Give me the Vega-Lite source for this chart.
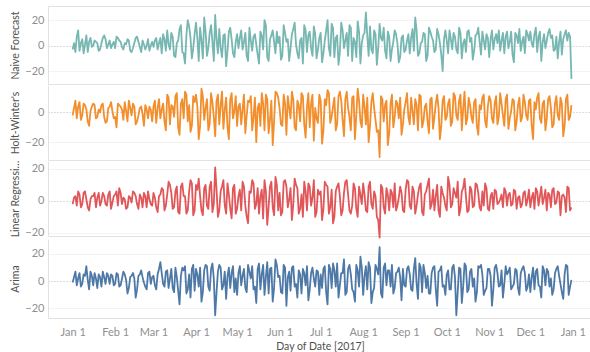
{
"$schema": "https://vega.github.io/schema/vega-lite/v6.json",
"padding": {"left": 10, "top": 5, "right": 0, "bottom": 0},
"spacing": 0,
"data": {"values": [
{"d":"2017-01-01","n":-3,"h":-2,"l":-2,"a":-1},
{"d":"2017-01-03","n":-5,"h":8,"l":3,"a":7},
{"d":"2017-01-05","n":12,"h":4,"l":6,"a":2},
{"d":"2017-01-07","n":2,"h":-5,"l":-4,"a":-4},
{"d":"2017-01-09","n":-6,"h":6,"l":5,"a":5},
{"d":"2017-01-11","n":8,"h":2,"l":1,"a":11},
{"d":"2017-01-13","n":3,"h":-9,"l":-6,"a":-6},
{"d":"2017-01-15","n":-1,"h":4,"l":3,"a":4},
{"d":"2017-01-17","n":4,"h":5,"l":5,"a":6},
{"d":"2017-01-19","n":2,"h":-3,"l":2,"a":-5},
{"d":"2017-01-21","n":-3,"h":0,"l":-3,"a":3},
{"d":"2017-01-23","n":6,"h":6,"l":5,"a":7},
{"d":"2017-01-25","n":5,"h":-7,"l":-2,"a":-2},
{"d":"2017-01-27","n":1,"h":3,"l":4,"a":4},
{"d":"2017-01-29","n":-2,"h":7,"l":-5,"a":5},
{"d":"2017-01-31","n":3,"h":-4,"l":3,"a":-3},
{"d":"2017-02-02","n":7,"h":-10,"l":6,"a":6},
{"d":"2017-02-04","n":4,"h":5,"l":8,"a":-4},
{"d":"2017-02-06","n":-1,"h":2,"l":-2,"a":2},
{"d":"2017-02-08","n":2,"h":7,"l":1,"a":5},
{"d":"2017-02-10","n":5,"h":-6,"l":-4,"a":-9},
{"d":"2017-02-12","n":-4,"h":3,"l":2,"a":3},
{"d":"2017-02-14","n":-2,"h":6,"l":6,"a":6},
{"d":"2017-02-16","n":6,"h":-8,"l":3,"a":-12},
{"d":"2017-02-18","n":3,"h":-2,"l":-5,"a":4},
{"d":"2017-02-20","n":-5,"h":4,"l":2,"a":8},
{"d":"2017-02-22","n":1,"h":-9,"l":5,"a":-1},
{"d":"2017-02-24","n":0,"h":2,"l":-4,"a":-6},
{"d":"2017-02-26","n":-4,"h":4,"l":1,"a":7},
{"d":"2017-02-28","n":3,"h":-6,"l":-3,"a":3},
{"d":"2017-03-02","n":4,"h":8,"l":2,"a":-3},
{"d":"2017-03-04","n":-3,"h":3,"l":-7,"a":5},
{"d":"2017-03-06","n":6,"h":-4,"l":4,"a":14},
{"d":"2017-03-08","n":9,"h":6,"l":7,"a":-2},
{"d":"2017-03-10","n":-4,"h":-12,"l":-3,"a":7},
{"d":"2017-03-12","n":1,"h":10,"l":12,"a":-5},
{"d":"2017-03-14","n":10,"h":5,"l":5,"a":9},
{"d":"2017-03-16","n":-8,"h":-3,"l":-4,"a":-8},
{"d":"2017-03-18","n":2,"h":13,"l":9,"a":3},
{"d":"2017-03-20","n":13,"h":-15,"l":-8,"a":-17},
{"d":"2017-03-22","n":-5,"h":9,"l":11,"a":10},
{"d":"2017-03-24","n":-14,"h":14,"l":3,"a":11},
{"d":"2017-03-26","n":20,"h":-6,"l":-6,"a":-6},
{"d":"2017-03-28","n":6,"h":-13,"l":13,"a":-12},
{"d":"2017-03-30","n":-2,"h":11,"l":-9,"a":12},
{"d":"2017-04-01","n":18,"h":12,"l":10,"a":9},
{"d":"2017-04-03","n":-12,"h":-18,"l":14,"a":-4},
{"d":"2017-04-05","n":4,"h":16,"l":-6,"a":-15},
{"d":"2017-04-07","n":22,"h":-5,"l":8,"a":8},
{"d":"2017-04-09","n":-8,"h":9,"l":-3,"a":11},
{"d":"2017-04-11","n":10,"h":-8,"l":9,"a":-7},
{"d":"2017-04-13","n":3,"h":7,"l":-7,"a":13},
{"d":"2017-04-15","n":24,"h":-16,"l":21,"a":-25},
{"d":"2017-04-17","n":-6,"h":12,"l":-10,"a":7},
{"d":"2017-04-19","n":-2,"h":5,"l":6,"a":10},
{"d":"2017-04-21","n":8,"h":-11,"l":13,"a":-3},
{"d":"2017-04-23","n":-16,"h":10,"l":-8,"a":-13},
{"d":"2017-04-25","n":11,"h":-18,"l":4,"a":10},
{"d":"2017-04-27","n":5,"h":13,"l":-11,"a":6},
{"d":"2017-04-29","n":-9,"h":1,"l":10,"a":-8},
{"d":"2017-05-01","n":9,"h":-9,"l":-5,"a":-10},
{"d":"2017-05-03","n":6,"h":6,"l":7,"a":11},
{"d":"2017-05-05","n":-3,"h":2,"l":12,"a":4},
{"d":"2017-05-07","n":10,"h":-14,"l":-3,"a":-5},
{"d":"2017-05-09","n":-12,"h":8,"l":-14,"a":12},
{"d":"2017-05-11","n":4,"h":11,"l":5,"a":2},
{"d":"2017-05-13","n":7,"h":-3,"l":11,"a":-6},
{"d":"2017-05-15","n":1,"h":-20,"l":-2,"a":-16},
{"d":"2017-05-17","n":-14,"h":6,"l":-8,"a":13},
{"d":"2017-05-19","n":8,"h":13,"l":7,"a":5},
{"d":"2017-05-21","n":20,"h":-12,"l":13,"a":-10},
{"d":"2017-05-23","n":-9,"h":9,"l":-15,"a":14},
{"d":"2017-05-25","n":5,"h":-5,"l":9,"a":9},
{"d":"2017-05-27","n":12,"h":-22,"l":-4,"a":-15},
{"d":"2017-05-29","n":-6,"h":14,"l":15,"a":16},
{"d":"2017-05-31","n":2,"h":10,"l":-6,"a":3},
{"d":"2017-06-02","n":-11,"h":-8,"l":-9,"a":-8},
{"d":"2017-06-04","n":16,"h":12,"l":12,"a":12},
{"d":"2017-06-06","n":3,"h":-15,"l":9,"a":-18},
{"d":"2017-06-08","n":-12,"h":3,"l":1,"a":7},
{"d":"2017-06-10","n":9,"h":14,"l":-12,"a":10},
{"d":"2017-06-12","n":18,"h":-10,"l":14,"a":-4},
{"d":"2017-06-14","n":-6,"h":8,"l":8,"a":-12},
{"d":"2017-06-16","n":4,"h":-6,"l":-5,"a":5},
{"d":"2017-06-18","n":-14,"h":11,"l":-10,"a":9},
{"d":"2017-06-20","n":12,"h":-17,"l":6,"a":-3},
{"d":"2017-06-22","n":8,"h":13,"l":11,"a":-14},
{"d":"2017-06-24","n":-2,"h":6,"l":-3,"a":6},
{"d":"2017-06-26","n":15,"h":-19,"l":13,"a":2},
{"d":"2017-06-28","n":-10,"h":-4,"l":-7,"a":8},
{"d":"2017-06-30","n":6,"h":12,"l":4,"a":-10},
{"d":"2017-07-02","n":-13,"h":-21,"l":-12,"a":-5},
{"d":"2017-07-04","n":4,"h":9,"l":12,"a":11},
{"d":"2017-07-06","n":20,"h":15,"l":9,"a":-17},
{"d":"2017-07-08","n":-8,"h":-7,"l":-4,"a":9},
{"d":"2017-07-10","n":14,"h":4,"l":-14,"a":13},
{"d":"2017-07-12","n":6,"h":-12,"l":6,"a":-4},
{"d":"2017-07-14","n":-15,"h":11,"l":11,"a":-12},
{"d":"2017-07-16","n":18,"h":8,"l":-9,"a":6},
{"d":"2017-07-18","n":-2,"h":-16,"l":5,"a":16},
{"d":"2017-07-20","n":10,"h":14,"l":13,"a":-8},
{"d":"2017-07-22","n":16,"h":-3,"l":-6,"a":12},
{"d":"2017-07-24","n":-12,"h":10,"l":-3,"a":-6},
{"d":"2017-07-26","n":3,"h":-18,"l":8,"a":-15},
{"d":"2017-07-28","n":19,"h":16,"l":-10,"a":8},
{"d":"2017-07-30","n":-14,"h":-6,"l":4,"a":18},
{"d":"2017-08-01","n":8,"h":12,"l":11,"a":-10},
{"d":"2017-08-03","n":26,"h":-8,"l":-6,"a":11},
{"d":"2017-08-05","n":-8,"h":-20,"l":9,"a":14},
{"d":"2017-08-07","n":-3,"h":7,"l":-2,"a":-16},
{"d":"2017-08-09","n":12,"h":3,"l":6,"a":-5},
{"d":"2017-08-11","n":-15,"h":-13,"l":-10,"a":9},
{"d":"2017-08-13","n":17,"h":-30,"l":-23,"a":25},
{"d":"2017-08-15","n":4,"h":9,"l":8,"a":-12},
{"d":"2017-08-17","n":-4,"h":5,"l":-8,"a":13},
{"d":"2017-08-19","n":11,"h":-22,"l":4,"a":8},
{"d":"2017-08-21","n":-12,"h":6,"l":7,"a":-4},
{"d":"2017-08-23","n":3,"h":-10,"l":-4,"a":-9},
{"d":"2017-08-25","n":9,"h":8,"l":-6,"a":6},
{"d":"2017-08-27","n":-13,"h":-4,"l":2,"a":10},
{"d":"2017-08-29","n":6,"h":-15,"l":5,"a":-14},
{"d":"2017-08-31","n":-5,"h":2,"l":-7,"a":-3},
{"d":"2017-09-02","n":4,"h":13,"l":13,"a":9},
{"d":"2017-09-04","n":-6,"h":-8,"l":-3,"a":5},
{"d":"2017-09-06","n":13,"h":1,"l":9,"a":-7},
{"d":"2017-09-08","n":22,"h":9,"l":-8,"a":17},
{"d":"2017-09-10","n":-8,"h":-12,"l":4,"a":-13},
{"d":"2017-09-12","n":2,"h":11,"l":11,"a":10},
{"d":"2017-09-14","n":10,"h":-6,"l":-9,"a":12},
{"d":"2017-09-16","n":-12,"h":6,"l":6,"a":-5},
{"d":"2017-09-18","n":14,"h":-14,"l":14,"a":-9},
{"d":"2017-09-20","n":7,"h":10,"l":-2,"a":6},
{"d":"2017-09-22","n":-5,"h":-3,"l":-6,"a":11},
{"d":"2017-09-24","n":13,"h":12,"l":10,"a":-18},
{"d":"2017-09-26","n":2,"h":-18,"l":-10,"a":8},
{"d":"2017-09-28","n":-20,"h":8,"l":5,"a":-4},
{"d":"2017-09-30","n":12,"h":-5,"l":-3,"a":-10},
{"d":"2017-10-02","n":-6,"h":6,"l":15,"a":8},
{"d":"2017-10-04","n":5,"h":-9,"l":-4,"a":-6},
{"d":"2017-10-06","n":10,"h":13,"l":8,"a":12},
{"d":"2017-10-08","n":-3,"h":-2,"l":2,"a":-25},
{"d":"2017-10-10","n":14,"h":8,"l":-9,"a":10},
{"d":"2017-10-12","n":-10,"h":-12,"l":6,"a":-16},
{"d":"2017-10-14","n":5,"h":14,"l":14,"a":13},
{"d":"2017-10-16","n":11,"h":-4,"l":-7,"a":-8},
{"d":"2017-10-18","n":3,"h":5,"l":9,"a":7},
{"d":"2017-10-20","n":-11,"h":-7,"l":-4,"a":-4},
{"d":"2017-10-22","n":8,"h":9,"l":11,"a":-15},
{"d":"2017-10-24","n":14,"h":-15,"l":5,"a":11},
{"d":"2017-10-26","n":-7,"h":2,"l":-6,"a":12},
{"d":"2017-10-28","n":4,"h":12,"l":-3,"a":-10},
{"d":"2017-10-30","n":9,"h":-10,"l":8,"a":-5},
{"d":"2017-11-01","n":-9,"h":11,"l":-6,"a":9},
{"d":"2017-11-03","n":12,"h":-4,"l":5,"a":-18},
{"d":"2017-11-05","n":5,"h":6,"l":7,"a":10},
{"d":"2017-11-07","n":2,"h":-8,"l":-2,"a":6},
{"d":"2017-11-09","n":-4,"h":13,"l":1,"a":-3},
{"d":"2017-11-11","n":10,"h":-2,"l":-4,"a":-12},
{"d":"2017-11-13","n":7,"h":9,"l":6,"a":11},
{"d":"2017-11-15","n":-2,"h":-11,"l":4,"a":7},
{"d":"2017-11-17","n":11,"h":1,"l":-3,"a":-6},
{"d":"2017-11-19","n":-13,"h":8,"l":7,"a":-2},
{"d":"2017-11-21","n":8,"h":-6,"l":-5,"a":8},
{"d":"2017-11-23","n":13,"h":10,"l":3,"a":-10},
{"d":"2017-11-25","n":3,"h":-3,"l":-2,"a":9},
{"d":"2017-11-27","n":-6,"h":7,"l":6,"a":6},
{"d":"2017-11-29","n":9,"h":-5,"l":1,"a":-4},
{"d":"2017-12-01","n":11,"h":9,"l":-4,"a":-8},
{"d":"2017-12-03","n":-1,"h":-18,"l":5,"a":10},
{"d":"2017-12-05","n":14,"h":2,"l":8,"a":7},
{"d":"2017-12-07","n":7,"h":13,"l":-3,"a":-3},
{"d":"2017-12-09","n":-12,"h":-7,"l":9,"a":-12},
{"d":"2017-12-11","n":9,"h":8,"l":2,"a":8},
{"d":"2017-12-13","n":4,"h":-4,"l":-6,"a":9},
{"d":"2017-12-15","n":13,"h":11,"l":4,"a":-4},
{"d":"2017-12-17","n":8,"h":-10,"l":7,"a":-10},
{"d":"2017-12-19","n":-3,"h":6,"l":-2,"a":6},
{"d":"2017-12-21","n":-10,"h":-2,"l":6,"a":11},
{"d":"2017-12-23","n":11,"h":10,"l":-9,"a":-2},
{"d":"2017-12-25","n":5,"h":-16,"l":4,"a":-13},
{"d":"2017-12-27","n":12,"h":9,"l":-7,"a":12},
{"d":"2017-12-29","n":10,"h":-5,"l":8,"a":-10},
{"d":"2017-12-31","n":-26,"h":5,"l":-4,"a":1},
{"d":"2017-01-02","n":2,"h":3,"l":2,"a":3},
{"d":"2017-01-04","n":7,"h":-4,"l":-3,"a":-3},
{"d":"2017-01-06","n":-4,"h":7,"l":4,"a":6},
{"d":"2017-01-08","n":5,"h":-2,"l":-2,"a":-2},
{"d":"2017-01-10","n":1,"h":5,"l":6,"a":4},
{"d":"2017-01-12","n":-5,"h":-6,"l":-4,"a":1},
{"d":"2017-01-14","n":6,"h":1,"l":1,"a":7},
{"d":"2017-01-16","n":0,"h":6,"l":3,"a":-3},
{"d":"2017-01-18","n":3,"h":-4,"l":-4,"a":2},
{"d":"2017-01-20","n":-4,"h":2,"l":5,"a":5},
{"d":"2017-01-22","n":2,"h":5,"l":0,"a":-4},
{"d":"2017-01-24","n":8,"h":-3,"l":3,"a":3},
{"d":"2017-01-26","n":-2,"h":-6,"l":-3,"a":6},
{"d":"2017-01-28","n":4,"h":4,"l":6,"a":-2},
{"d":"2017-01-30","n":1,"h":1,"l":-1,"a":4},
{"d":"2017-02-01","n":-2,"h":-3,"l":4,"a":-2},
{"d":"2017-02-03","n":6,"h":6,"l":-3,"a":5},
{"d":"2017-02-05","n":3,"h":4,"l":5,"a":-3},
{"d":"2017-02-07","n":-3,"h":-5,"l":2,"a":7},
{"d":"2017-02-09","n":1,"h":1,"l":-5,"a":1},
{"d":"2017-02-11","n":4,"h":8,"l":3,"a":-5},
{"d":"2017-02-13","n":-5,"h":-2,"l":-1,"a":4},
{"d":"2017-02-15","n":2,"h":4,"l":5,"a":2},
{"d":"2017-02-17","n":7,"h":-6,"l":-2,"a":-6},
{"d":"2017-02-19","n":-1,"h":3,"l":4,"a":5},
{"d":"2017-02-21","n":4,"h":-1,"l":-4,"a":3},
{"d":"2017-02-23","n":-3,"h":5,"l":3,"a":-4},
{"d":"2017-02-25","n":5,"h":-4,"l":6,"a":6},
{"d":"2017-02-27","n":0,"h":2,"l":-2,"a":-2},
{"d":"2017-03-01","n":-1,"h":4,"l":5,"a":4},
{"d":"2017-03-03","n":6,"h":-7,"l":-4,"a":-6},
{"d":"2017-03-05","n":2,"h":9,"l":3,"a":9},
{"d":"2017-03-07","n":-6,"h":2,"l":8,"a":6},
{"d":"2017-03-09","n":5,"h":-6,"l":-6,"a":-4},
{"d":"2017-03-11","n":12,"h":12,"l":4,"a":8},
{"d":"2017-03-13","n":-3,"h":-8,"l":10,"a":2},
{"d":"2017-03-15","n":7,"h":4,"l":-5,"a":-5},
{"d":"2017-03-17","n":-9,"h":11,"l":6,"a":10},
{"d":"2017-03-19","n":4,"h":-10,"l":-7,"a":-7},
{"d":"2017-03-21","n":16,"h":6,"l":9,"a":4},
{"d":"2017-03-23","n":-6,"h":-4,"l":3,"a":8},
{"d":"2017-03-25","n":8,"h":12,"l":-8,"a":-9},
{"d":"2017-03-27","n":15,"h":5,"l":6,"a":5},
{"d":"2017-03-29","n":-10,"h":-9,"l":11,"a":9},
{"d":"2017-03-31","n":9,"h":7,"l":-6,"a":-7},
{"d":"2017-04-02","n":6,"h":4,"l":7,"a":5},
{"d":"2017-04-04","n":14,"h":-9,"l":3,"a":10},
{"d":"2017-04-06","n":-10,"h":11,"l":-9,"a":-8},
{"d":"2017-04-08","n":11,"h":3,"l":10,"a":12},
{"d":"2017-04-10","n":-2,"h":-12,"l":-5,"a":-4},
{"d":"2017-04-12","n":16,"h":13,"l":12,"a":9},
{"d":"2017-04-14","n":-12,"h":-3,"l":-2,"a":2},
{"d":"2017-04-16","n":5,"h":8,"l":7,"a":-8},
{"d":"2017-04-18","n":13,"h":-8,"l":-6,"a":12},
{"d":"2017-04-20","n":-9,"h":14,"l":9,"a":-6},
{"d":"2017-04-22","n":9,"h":2,"l":-3,"a":7},
{"d":"2017-04-24","n":-4,"h":-10,"l":11,"a":4},
{"d":"2017-04-26","n":14,"h":9,"l":-5,"a":-5},
{"d":"2017-04-28","n":-6,"h":-4,"l":8,"a":11},
{"d":"2017-04-30","n":3,"h":11,"l":-8,"a":2},
{"d":"2017-05-02","n":-2,"h":4,"l":3,"a":6},
{"d":"2017-05-04","n":12,"h":-8,"l":-6,"a":-3},
{"d":"2017-05-06","n":3,"h":12,"l":9,"a":9},
{"d":"2017-05-08","n":-8,"h":-2,"l":-10,"a":-8},
{"d":"2017-05-10","n":14,"h":7,"l":6,"a":7},
{"d":"2017-05-12","n":-4,"h":-12,"l":13,"a":11},
{"d":"2017-05-14","n":9,"h":10,"l":-5,"a":-4},
{"d":"2017-05-16","n":-7,"h":3,"l":8,"a":9},
{"d":"2017-05-18","n":11,"h":-9,"l":3,"a":-6},
{"d":"2017-05-20","n":-3,"h":6,"l":-11,"a":12},
{"d":"2017-05-22","n":16,"h":12,"l":6,"a":3},
{"d":"2017-05-24","n":-12,"h":-14,"l":-4,"a":-9},
{"d":"2017-05-26","n":8,"h":8,"l":12,"a":10},
{"d":"2017-05-28","n":3,"h":-6,"l":-9,"a":-5},
{"d":"2017-05-30","n":11,"h":13,"l":10,"a":12},
{"d":"2017-06-01","n":7,"h":3,"l":5,"a":4},
{"d":"2017-06-03","n":-8,"h":-9,"l":-7,"a":-9},
{"d":"2017-06-05","n":10,"h":6,"l":13,"a":10},
{"d":"2017-06-07","n":5,"h":11,"l":-4,"a":3},
{"d":"2017-06-09","n":-2,"h":-4,"l":8,"a":-7},
{"d":"2017-06-11","n":13,"h":9,"l":-2,"a":11},
{"d":"2017-06-13","n":1,"h":-12,"l":10,"a":-2},
{"d":"2017-06-15","n":-10,"h":5,"l":-8,"a":8},
{"d":"2017-06-17","n":6,"h":13,"l":4,"a":-9},
{"d":"2017-06-19","n":16,"h":-8,"l":12,"a":6},
{"d":"2017-06-21","n":-5,"h":4,"l":-6,"a":11},
{"d":"2017-06-23","n":11,"h":-10,"l":9,"a":-6},
{"d":"2017-06-25","n":-8,"h":12,"l":2,"a":10},
{"d":"2017-06-27","n":9,"h":3,"l":-10,"a":-4},
{"d":"2017-06-29","n":-3,"h":-7,"l":7,"a":7},
{"d":"2017-07-01","n":10,"h":8,"l":6,"a":5},
{"d":"2017-07-03","n":-6,"h":-12,"l":-5,"a":9},
{"d":"2017-07-05","n":12,"h":5,"l":10,"a":-8},
{"d":"2017-07-07","n":-2,"h":13,"l":-8,"a":12},
{"d":"2017-07-09","n":17,"h":-3,"l":7,"a":-5},
{"d":"2017-07-11","n":-9,"h":10,"l":-10,"a":8},
{"d":"2017-07-13","n":8,"h":-8,"l":9,"a":13},
{"d":"2017-07-15","n":-5,"h":14,"l":3,"a":-3},
{"d":"2017-07-17","n":12,"h":-5,"l":-6,"a":6},
{"d":"2017-07-19","n":4,"h":9,"l":12,"a":-10},
{"d":"2017-07-21","n":-8,"h":3,"l":4,"a":9},
{"d":"2017-07-23","n":14,"h":-12,"l":-8,"a":5},
{"d":"2017-07-25","n":6,"h":11,"l":11,"a":-8},
{"d":"2017-07-27","n":-9,"h":-2,"l":-5,"a":12},
{"d":"2017-07-29","n":11,"h":8,"l":9,"a":-4},
{"d":"2017-07-31","n":2,"h":-10,"l":-2,"a":10},
{"d":"2017-08-02","n":10,"h":4,"l":4,"a":4},
{"d":"2017-08-04","n":8,"h":10,"l":-7,"a":-6},
{"d":"2017-08-06","n":15,"h":-9,"l":12,"a":10},
{"d":"2017-08-08","n":-6,"h":13,"l":-5,"a":-8},
{"d":"2017-08-10","n":9,"h":-5,"l":3,"a":12},
{"d":"2017-08-12","n":-2,"h":-12,"l":-12,"a":5},
{"d":"2017-08-14","n":6,"h":11,"l":10,"a":-9},
{"d":"2017-08-16","n":14,"h":-6,"l":-4,"a":10},
{"d":"2017-08-18","n":-10,"h":8,"l":8,"a":-3},
{"d":"2017-08-20","n":7,"h":-14,"l":-6,"a":8},
{"d":"2017-08-22","n":-3,"h":12,"l":5,"a":12},
{"d":"2017-08-24","n":12,"h":-3,"l":11,"a":-5},
{"d":"2017-08-26","n":2,"h":6,"l":-3,"a":7},
{"d":"2017-08-28","n":-9,"h":10,"l":9,"a":3},
{"d":"2017-08-30","n":8,"h":-8,"l":-6,"a":9},
{"d":"2017-09-01","n":-3,"h":7,"l":7,"a":-4},
{"d":"2017-09-03","n":9,"h":-3,"l":12,"a":11},
{"d":"2017-09-05","n":6,"h":10,"l":-5,"a":-6},
{"d":"2017-09-07","n":-4,"h":-8,"l":6,"a":9},
{"d":"2017-09-09","n":12,"h":5,"l":-3,"a":-2},
{"d":"2017-09-11","n":-6,"h":12,"l":9,"a":13},
{"d":"2017-09-13","n":3,"h":-10,"l":-7,"a":-8},
{"d":"2017-09-15","n":9,"h":4,"l":4,"a":6},
{"d":"2017-09-17","n":-8,"h":-6,"l":10,"a":4},
{"d":"2017-09-19","n":11,"h":9,"l":-5,"a":-9},
{"d":"2017-09-21","n":4,"h":-11,"l":7,"a":10},
{"d":"2017-09-23","n":-3,"h":6,"l":3,"a":-6},
{"d":"2017-09-25","n":9,"h":3,"l":-6,"a":7},
{"d":"2017-09-27","n":-7,"h":-9,"l":9,"a":11},
{"d":"2017-09-29","n":5,"h":11,"l":2,"a":-3},
{"d":"2017-10-01","n":4,"h":-3,"l":-6,"a":5},
{"d":"2017-10-03","n":12,"h":9,"l":10,"a":-6},
{"d":"2017-10-05","n":-3,"h":-6,"l":-2,"a":10},
{"d":"2017-10-07","n":7,"h":11,"l":5,"a":3},
{"d":"2017-10-09","n":-6,"h":-5,"l":12,"a":-8},
{"d":"2017-10-11","n":10,"h":12,"l":-5,"a":9},
{"d":"2017-10-13","n":2,"h":3,"l":8,"a":-4},
{"d":"2017-10-15","n":-5,"h":-8,"l":3,"a":11},
{"d":"2017-10-17","n":12,"h":10,"l":-6,"a":-6},
{"d":"2017-10-19","n":6,"h":-3,"l":7,"a":9},
{"d":"2017-10-21","n":-4,"h":7,"l":-3,"a":2},
{"d":"2017-10-23","n":9,"h":-9,"l":10,"a":-8},
{"d":"2017-10-25","n":3,"h":5,"l":-4,"a":10},
{"d":"2017-10-27","n":11,"h":10,"l":6,"a":5},
{"d":"2017-10-29","n":-3,"h":-6,"l":11,"a":-7},
{"d":"2017-10-31","n":6,"h":4,"l":-5,"a":9},
{"d":"2017-11-02","n":5,"h":8,"l":3,"a":4},
{"d":"2017-11-04","n":-3,"h":-7,"l":-5,"a":-6},
{"d":"2017-11-06","n":9,"h":11,"l":6,"a":12},
{"d":"2017-11-08","n":12,"h":-3,"l":-1,"a":-4},
{"d":"2017-11-10","n":4,"h":6,"l":4,"a":8},
{"d":"2017-11-12","n":-6,"h":-9,"l":8,"a":-2},
{"d":"2017-11-14","n":11,"h":12,"l":-3,"a":5},
{"d":"2017-11-16","n":3,"h":-4,"l":5,"a":10},
{"d":"2017-11-18","n":-7,"h":9,"l":-2,"a":-4},
{"d":"2017-11-20","n":10,"h":-12,"l":6,"a":9},
{"d":"2017-11-22","n":2,"h":5,"l":2,"a":-5},
{"d":"2017-11-24","n":-4,"h":-6,"l":-4,"a":6},
{"d":"2017-11-26","n":7,"h":12,"l":5,"a":11},
{"d":"2017-11-28","n":12,"h":-2,"l":-3,"a":-7},
{"d":"2017-11-30","n":4,"h":8,"l":7,"a":5},
{"d":"2017-12-02","n":2,"h":-9,"l":2,"a":3},
{"d":"2017-12-04","n":9,"h":7,"l":-5,"a":-6},
{"d":"2017-12-06","n":-5,"h":10,"l":6,"a":9},
{"d":"2017-12-08","n":11,"h":-4,"l":3,"a":-4},
{"d":"2017-12-10","n":3,"h":6,"l":-2,"a":11},
{"d":"2017-12-12","n":-2,"h":-12,"l":7,"a":-3},
{"d":"2017-12-14","n":10,"h":9,"l":5,"a":7},
{"d":"2017-12-16","n":6,"h":3,"l":-4,"a":2},
{"d":"2017-12-18","n":-4,"h":-8,"l":8,"a":-6},
{"d":"2017-12-20","n":7,"h":11,"l":-1,"a":9},
{"d":"2017-12-22","n":3,"h":-5,"l":5,"a":4},
{"d":"2017-12-24","n":-7,"h":6,"l":3,"a":-8},
{"d":"2017-12-26","n":9,"h":-9,"l":2,"a":5},
{"d":"2017-12-28","n":4,"h":12,"l":9,"a":11},
{"d":"2017-12-30","n":7,"h":-3,"l":-6,"a":-4}
]},
"config": {
  "view": {"stroke": null},
  "font": "Lato",
  "axis": {"labelColor": "#8f8f8f", "labelFontSize": 11, "titleColor": "#505050", "titleFontSize": 10.5, "titleFontWeight": "normal", "ticks": false, "domainColor": "#e2e2e2"},
  "axisY": {
    "labelOverlap": false,
    "labelPadding": 4, "titlePadding": 4,
    "grid": true,
    "gridColor": {"condition": {"test": "datum.value === 0", "value": "#bdbdbd"}, "value": "#f3f3f3"},
    "gridDash": {"condition": {"test": "datum.value === 0", "value": [1, 2]}, "value": []}
  },
  "line": {"strokeWidth": 1.8, "strokeJoin": "round"}
},
"vconcat": [
 {"width": 544, "height": 78, "view": {"stroke": "#e2e2e2"},
   "mark": {"type": "line", "color": "#76b7b2"}, "encoding": {
     "x": {"field": "d", "type": "temporal", "scale": {"domain": ["2016-12-14", "2018-01-15"]}, "axis": {"labels": false, "title": null, "grid": false, "domain": true}},
     "y": {"field": "n", "type": "quantitative", "scale": {"domain": [-30, 31], "nice": false, "zero": false}, "axis": {"title": "Naive Forecast", "values": [-20, 0, 20]}}
 }},
 {"width": 544, "height": 75,
   "mark": {"type": "line", "color": "#f28e2b"}, "encoding": {
     "x": {"field": "d", "type": "temporal", "scale": {"domain": ["2016-12-14", "2018-01-15"]}, "axis": {"labels": false, "title": null, "grid": false, "domain": true}},
     "y": {"field": "h", "type": "quantitative", "scale": {"domain": [-32, 18.5], "nice": false, "zero": false}, "axis": {"title": "Holt-Winter's", "values": [-20, 0]}}
 }},
 {"width": 544, "height": 75,
   "mark": {"type": "line", "color": "#e15759"}, "encoding": {
     "x": {"field": "d", "type": "temporal", "scale": {"domain": ["2016-12-14", "2018-01-15"]}, "axis": {"labels": false, "title": null, "grid": false, "domain": true}},
     "y": {"field": "l", "type": "quantitative", "scale": {"domain": [-22, 25], "nice": false, "zero": false}, "axis": {"title": "Linear Regression", "titleLimit": 78, "values": [-20, 0, 20]}}
 }},
 {"width": 544, "height": 79,
   "mark": {"type": "line", "color": "#4e79a7"}, "encoding": {
     "x": {"field": "d", "type": "temporal", "scale": {"domain": ["2016-12-14", "2018-01-15"]}, "axis": {"title": "Day of Date [2017]", "format": "%b %-d", "tickCount": {"interval": "month", "step": 1}, "grid": false, "domain": true, "labelPadding": 8, "titlePadding": 4, "labelFlush": false, "labelOverlap": false}},
     "y": {"field": "a", "type": "quantitative", "scale": {"domain": [-27, 31], "nice": false, "zero": false}, "axis": {"title": "Arima", "values": [-20, 0, 20]}}
 }}
]
}
